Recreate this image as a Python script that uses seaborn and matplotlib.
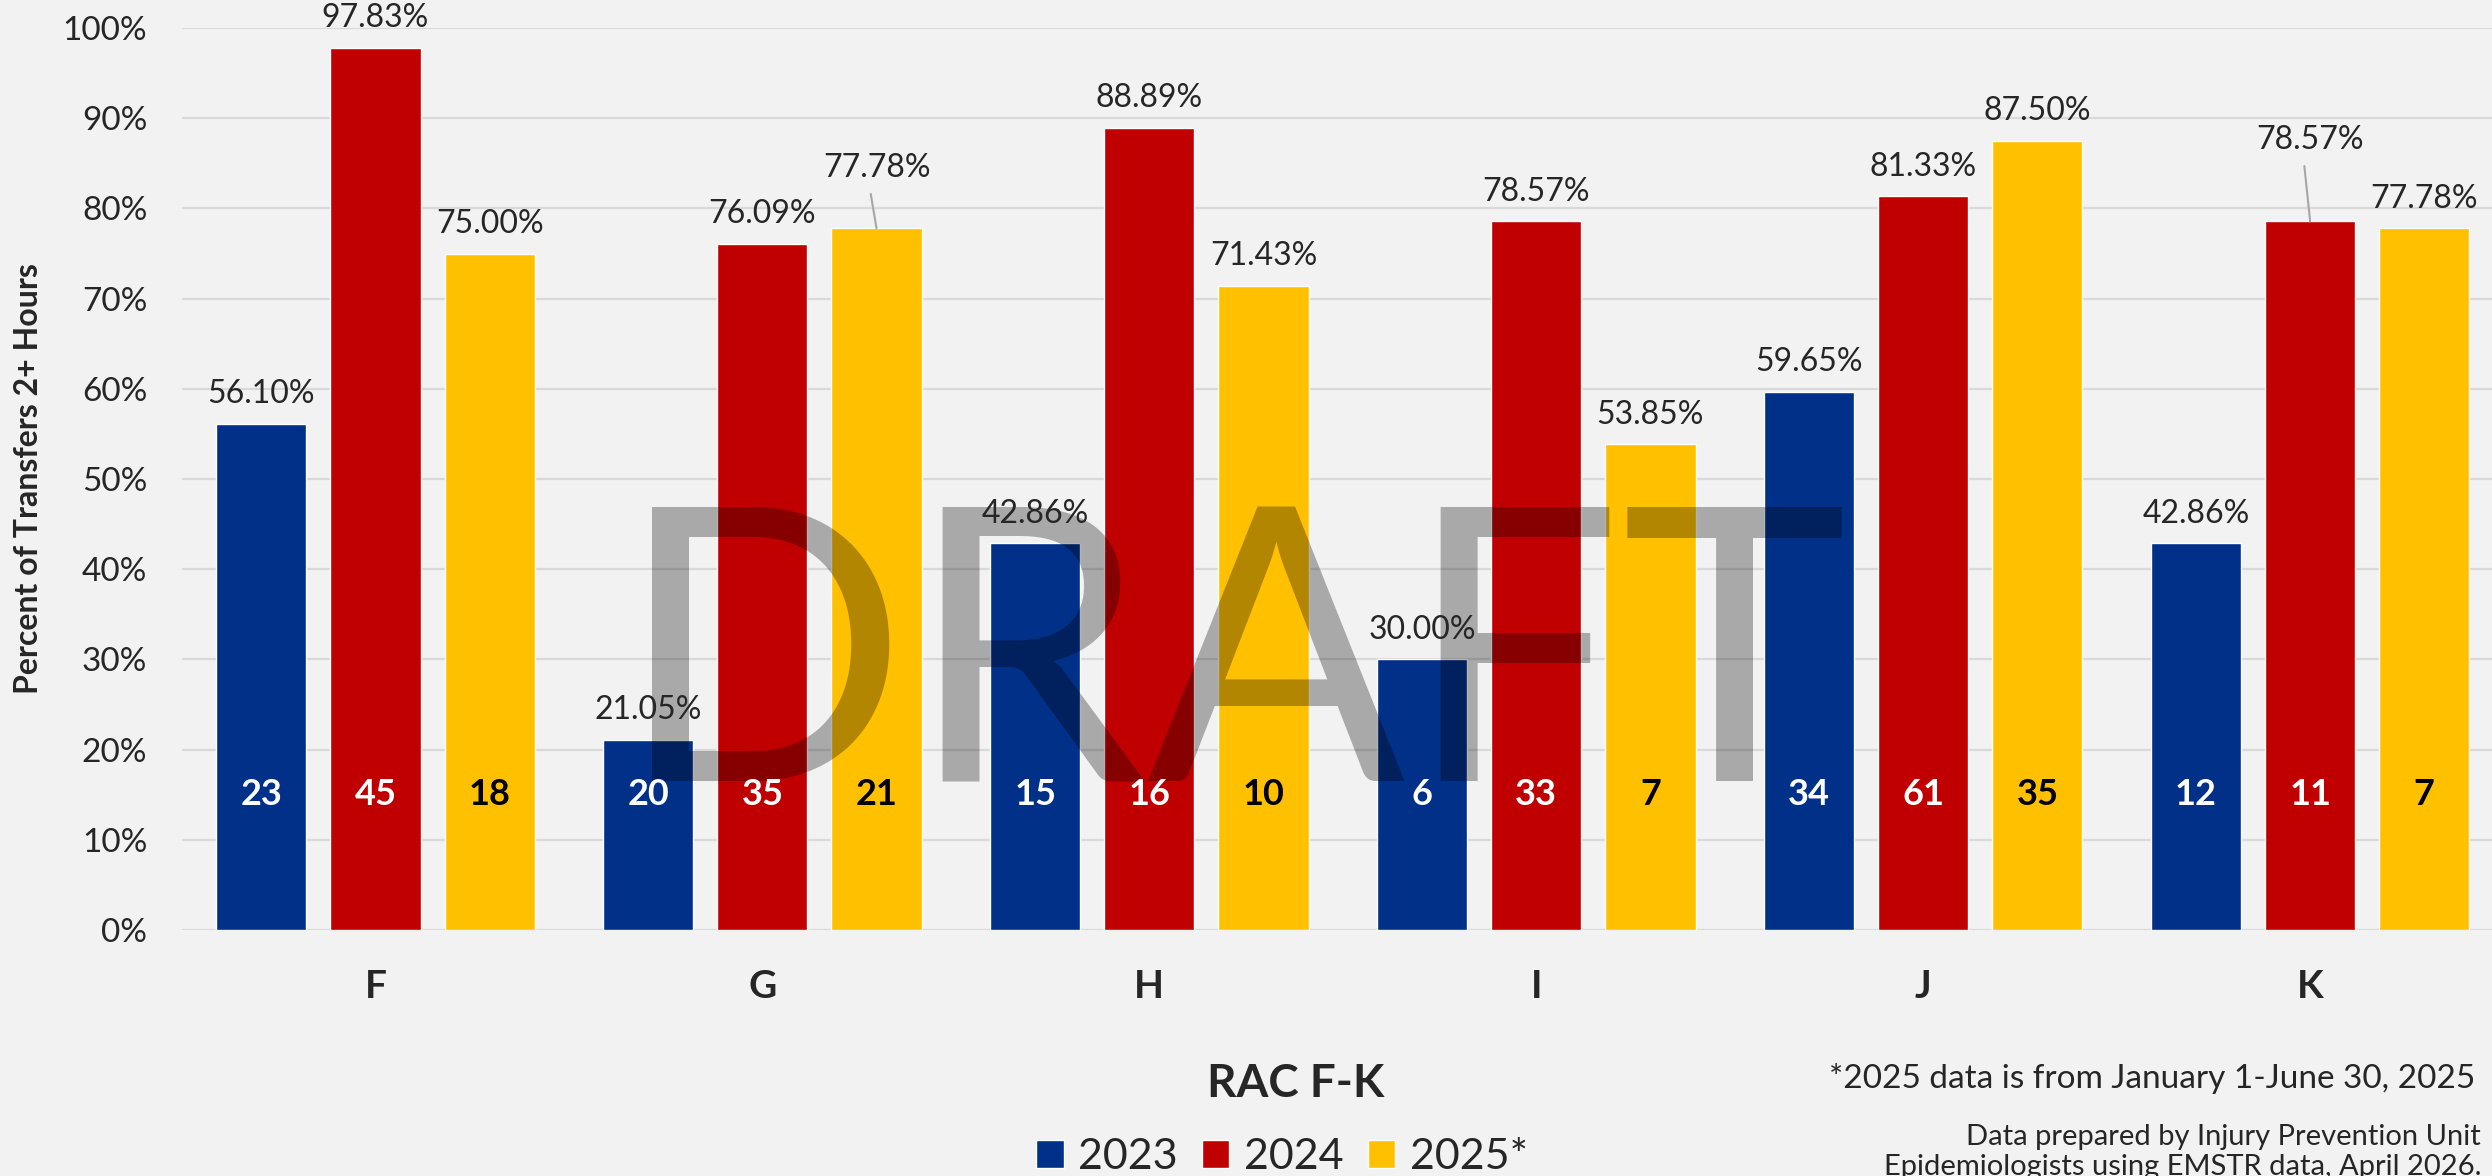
import numpy as np
import pandas as pd
import matplotlib
matplotlib.use("Agg")
import matplotlib.pyplot as plt
import seaborn as sns

racs = ["F", "G", "H", "I", "J", "K"]
years = ["2023", "2024", "2025*"]

pct_2023 = [56.10, 21.05, 42.86, 30.00, 59.65, 42.86]
pct_2024 = [97.83, 76.09, 88.89, 78.57, 81.33, 78.57]
pct_2025 = [75.00, 77.78, 71.43, 53.85, 87.50, 77.78]

n_2023 = [23, 20, 15, 6, 34, 12]
n_2024 = [45, 35, 16, 33, 61, 11]
n_2025 = [18, 21, 10, 7, 35, 7]

colors = ["#003087", "#C00000", "#FFC000"]
count_colors = ["white", "white", "black"]

# labels Excel pulled up with a leader line: (year index, rac index) -> label height
moved = {(2, 1): 84.5, (1, 5): 87.6}

sns.set_style("white")
plt.rcParams["font.family"] = ["Lato", "DejaVu Sans"]

rows = []
for year, pcts, counts in zip(years, [pct_2023, pct_2024, pct_2025], [n_2023, n_2024, n_2025]):
    for rac, p, n in zip(racs, pcts, counts):
        rows.append({"rac": rac, "year": year, "pct": p / 100, "n": n})
df = pd.DataFrame(rows)

fig = plt.figure(figsize=(24.92, 11.76), dpi=100, facecolor="#F2F2F2")
ax = fig.add_axes([182 / 2492, 1 - 930 / 1176, 1 - 182 / 2492, (930 - 28) / 1176])
ax.set_facecolor("#F2F2F2")

sns.barplot(data=df, x="rac", y="pct", hue="year", palette=colors,
            width=0.885, gap=0.21, saturation=1, ax=ax, zorder=2)

ax.set_ylim(0, 1)
ax.set_xlim(-0.5, 5.47)
ax.set_yticks(np.arange(0, 1.01, 0.1))
ax.set_yticklabels([f"{int(round(v * 100))}%" for v in np.arange(0, 1.01, 0.1)])
ax.yaxis.grid(True, color="#D9D9D9", linewidth=1.6)
ax.set_axisbelow(True)
for s in ax.spines.values():
    s.set_visible(False)
ax.tick_params(axis="y", length=0, labelsize=24, pad=25)
ax.tick_params(axis="x", length=0, labelsize=28, pad=28)
for t in ax.get_xticklabels():
    t.set_fontweight("bold")

ax.set_ylabel("")
ax.set_xlabel("RAC F-K", fontsize=33, fontweight="bold")
ax.xaxis.set_label_coords((1296 - 182) / 2310, -(1063 - 930) / 902)
ax.xaxis.label.set_va("top")

fig.text(29 / 2492, 1 - 479 / 1176, "Percent of Transfers 2+ Hours", rotation=90,
         ha="center", va="center", fontsize=23, fontweight="bold")

all_counts = [n_2023, n_2024, n_2025]
for yi, cont in enumerate(ax.containers):
    for ri, bar in enumerate(cont):
        xc = bar.get_x() + bar.get_width() / 2
        h = bar.get_height()
        if (yi, ri) in moved:
            ly = moved[(yi, ri)] / 100
            ax.plot([xc - 0.015, xc], [ly - 0.029, h], color="#A6A6A6", lw=1.5,
                    zorder=4, clip_on=False)
        else:
            ly = h + 0.033
        ax.text(xc, ly, f"{h * 100:.2f}%", ha="center", va="center",
                fontsize=23, zorder=5, clip_on=False)
        ax.text(xc, 0.15, str(all_counts[yi][ri]), ha="center", va="center",
                fontsize=26, fontweight="bold", color=count_colors[yi], zorder=5)

# watermark
ax.text(1232 / 2492, 1 - 782 / 1176, "DRAFT", transform=fig.transFigure,
        ha="center", va="baseline", fontsize=275, color="black", alpha=0.3, zorder=3)

handles, labels = ax.get_legend_handles_labels()
ax.get_legend().remove()
fig.legend(handles, labels, loc="center", bbox_to_anchor=(1282 / 2492, 1 - 1157 / 1176),
           ncol=3, frameon=False, fontsize=31, handlelength=0.63, handleheight=0.63,
           handletextpad=0.33, columnspacing=0.58)

fig.text(2475 / 2492, 1 - 1079 / 1176, "*2025 data is from January 1-June 30, 2025",
         ha="right", va="center", fontsize=24)
fig.text(2481 / 2492, 1 - 1137 / 1176, "Data prepared by Injury Prevention Unit",
         ha="right", va="center", fontsize=21)
fig.text(2482 / 2492, 1 - 1167 / 1176, "Epidemiologists using EMSTR data, April 2026.",
         ha="right", va="center", fontsize=21)

fig.savefig("out.png", dpi=100, facecolor=fig.get_facecolor())
